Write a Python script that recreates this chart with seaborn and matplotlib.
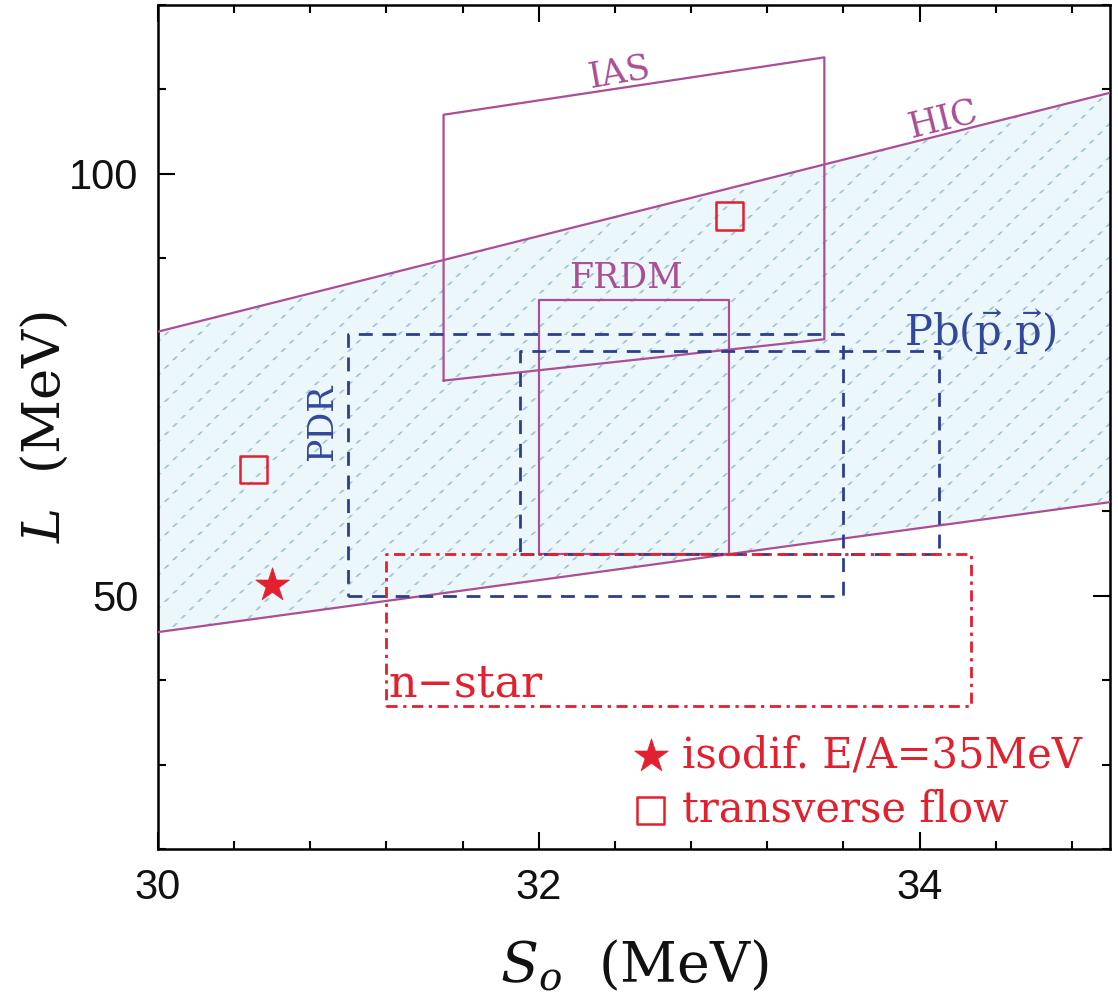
import numpy as np
import pandas as pd
import matplotlib
matplotlib.use("Agg")
import matplotlib.pyplot as plt
import seaborn as sns

# HIC band (lower / upper edge at S0 = 30 and 35)
hic_s = [30.0, 35.0]
hic_low = [45.7, 61.1]
hic_up = [81.3, 109.6]

# IAS parallelogram: S0 edges, lower and upper L at each edge
ias_s = [31.5, 33.5]
ias_low = [75.5, 80.4]
ias_up = [107.0, 113.8]

# rectangles: [S0 min, S0 max, L min, L max]
frdm_box = [32.0, 33.0, 55.0, 85.0]
pdr_box = [31.0, 33.6, 50.0, 81.0]
pbpp_box = [31.9, 34.1, 55.0, 79.0]
nstar_box = [31.2, 34.27, 37.0, 55.0]

# experimental points
isodif_s = [30.6]
isodif_L = [51.3]
flow_s = [30.5, 33.0]
flow_L = [65.0, 95.0]

sns.set_style("ticks")
plt.rcParams["font.family"] = ["DejaVu Serif"]
plt.rcParams["mathtext.fontset"] = "dejavuserif"

MAG = "#ab4e93"
BLUE = "#2e3e8c"
RED = "#e3202e"
BAND = "#ebf7fb"

fig = plt.figure(figsize=(11.18, 10.05), dpi=100)
ax = fig.add_axes([0.1413, 0.1552, 0.8515, 0.8398])


def box_xy(b):
    return [b[0], b[1], b[1], b[0], b[0]], [b[2], b[2], b[3], b[3], b[2]]


# HIC band: light fill, diagonal hatch broken into short dashes
with plt.rc_context({"hatch.linewidth": 1.3}):
    ax.fill_between(hic_s, hic_low, hic_up, facecolor=BAND, edgecolor="#a2c4d3",
                    hatch="/", linewidth=0, zorder=1)
with plt.rc_context({"hatch.linewidth": 3.4}):
    ax.fill_between(hic_s, hic_low, hic_up, facecolor="none", edgecolor=BAND,
                    hatch="--", linewidth=0, zorder=1.5)
hic_df = pd.DataFrame({"S": hic_s * 2, "L": hic_low + hic_up,
                       "edge": ["low"] * 2 + ["up"] * 2})
sns.lineplot(data=hic_df, x="S", y="L", units="edge", estimator=None,
             color=MAG, lw=1.6, ax=ax, zorder=3)

# IAS
ax.plot([ias_s[0], ias_s[1], ias_s[1], ias_s[0], ias_s[0]],
        [ias_low[0], ias_low[1], ias_up[1], ias_up[0], ias_low[0]],
        color=MAG, lw=1.6, zorder=3)

# FRDM
bx, by = box_xy(frdm_box)
ax.plot(bx, by, color=MAG, lw=1.6, zorder=3)

# PDR and Pb(p,p)
for b in (pdr_box, pbpp_box):
    bx, by = box_xy(b)
    ax.plot(bx, by, color=BLUE, lw=2.0, dashes=(5, 3.5), zorder=4)

# n-star
bx, by = box_xy(nstar_box)
ax.plot(bx, by, color=RED, lw=2.0, dashes=(4, 2, 1.2, 2), zorder=4)

# points
sns.scatterplot(x=isodif_s, y=isodif_L, marker="*", s=650, color=RED,
                edgecolor=RED, linewidth=0.5, ax=ax, zorder=6,
                label="isodif. E/A=35MeV")
sns.scatterplot(x=flow_s, y=flow_L, marker="s", s=380, facecolor="none",
                edgecolor=RED, linewidth=1.8, ax=ax, zorder=6,
                label="transverse flow")

# labels in the plot
ax.text(32.42, 112.0, "IAS", color=MAG, fontsize=25, ha="center", va="center", rotation=10)
ax.text(34.12, 106.5, "HIC", color=MAG, fontsize=25, ha="center", va="center", rotation=14)
ax.text(32.46, 87.7, "FRDM", color=MAG, fontsize=25, ha="center", va="center")
ax.text(33.92, 81.3, r"Pb($\vec{\mathrm{p}}$,$\vec{\mathrm{p}}$)", color="#34489a",
        fontsize=30, ha="left", va="center")
ax.text(30.86, 70.5, "PDR", color="#34489a", fontsize=25, ha="center", va="center",
        rotation=90)
ax.text(31.21, 39.6, "n\u2212star", color=RED, fontsize=32, ha="left", va="center")

leg = ax.legend(loc="lower left", bbox_to_anchor=(0.465, -0.008), frameon=False,
                fontsize=30, labelcolor=RED, handletextpad=0.15, labelspacing=0.3,
                borderaxespad=0.2, markerscale=1.0, handlelength=1.2)

ax.set_xlim(30, 35)
ax.set_ylim(20, 120)
ax.set_xticks([30, 32, 34])
ax.set_xticks(np.arange(30, 35.01, 0.4), minor=True)
ax.set_yticks([50, 100])
ax.set_yticks(np.arange(20, 120.1, 10), minor=True)
ax.tick_params(which="both", direction="in", top=True, right=True, width=1.5,
               color="black")
ax.tick_params(which="major", length=12)
ax.tick_params(which="minor", length=6)
for lab in ax.get_xticklabels() + ax.get_yticklabels():
    lab.set_family("Liberation Sans")
    lab.set_fontsize(30)
    lab.set_color("#111111")
ax.tick_params(axis="x", pad=14)
ax.tick_params(axis="y", pad=14)
for sp in ax.spines.values():
    sp.set_linewidth(1.8)
    sp.set_color("black")

ax.set_xlabel(r"$S_{o}$  (MeV)", fontsize=40, labelpad=22, color="#111111")
ax.set_ylabel(r"$L$  (MeV)", fontsize=38, color="#111111")
ax.yaxis.set_label_coords(-0.092, 0.5)

fig.savefig("out.png", dpi=100)
